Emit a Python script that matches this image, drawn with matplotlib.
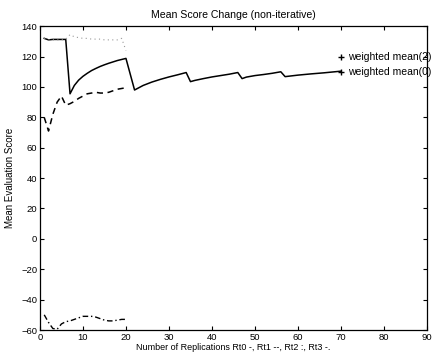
import numpy as np
import matplotlib
matplotlib.use('Agg')
import matplotlib.pyplot as plt

plt.rcParams['font.family'] = ['Liberation Sans', 'DejaVu Sans']

# Rt0 (solid)
rt0_x = [1, 2, 3, 4, 5, 6, 7, 8, 9, 10, 11, 12, 13, 14, 15, 16, 17, 18, 19, 20,
         22, 23, 24, 26, 28, 30, 32, 34, 35, 36, 38, 40, 42, 44, 46, 47, 48, 50,
         52, 54, 56, 57, 60, 63, 66, 70]
rt0_y = [132, 131, 131.3, 131.3, 131.3, 131.3, 95.5, 101, 104.5, 107, 109, 110.8,
         112.2, 113.5, 114.6, 115.6, 116.5, 117.4, 118.1, 118.8,
         98, 99.5, 101, 103.2, 105, 106.6, 108, 109.5, 103.5, 104.3, 105.5, 106.6,
         107.5, 108.4, 109.5, 105.5, 106.5, 107.5, 108.2, 109, 110, 106.8, 107.8,
         108.6, 109.3, 110.4]

# Rt1 (dashed)
rt_x = list(range(1, 21))
rt1_y = [80, 71, 82, 90, 94, 88, 89, 90.5, 92.5, 94, 95.5, 96, 96.5, 96, 96,
         96.5, 97.5, 98.5, 99, 99.5]
# Rt2 (dotted)
rt2_y = [132, 131, 131, 131, 131, 131.5, 134.5, 133, 132.5, 132, 132, 131.5,
         131.5, 131.5, 131, 131, 131, 131, 132, 124]
# Rt3 (dash-dot)
rt3_y = [-50, -55, -59, -59.5, -56, -54.5, -54, -53, -52, -51, -51, -51, -51.5,
         -52.5, -53.5, -54, -54, -53.5, -53, -53]

notes = ['weighted mean(2)', 'weighted mean(0)']
note_y = [120, 110]
note_x = 70

fig = plt.figure(figsize=(4.34, 3.57), dpi=100)
ax = fig.add_axes([0.092, 0.0756, 0.892, 0.851])

ax.plot(rt0_x, rt0_y, color='black', lw=1.1, ls='-')
ax.plot(rt_x, rt1_y, color='black', lw=1.1, ls=(0, (4, 3)))
ax.plot(rt_x, rt2_y, color='#999999', lw=0.8, ls=(0, (1, 3)))
ax.plot(rt_x, rt3_y, color='black', lw=1.0, ls=(0, (4, 2, 1, 2)))

for txt, yy in zip(notes, note_y):
    ax.plot([note_x], [yy], marker='+', color='black', ms=4, mew=1.0)
    ax.text(note_x + 1.7, yy, txt, fontsize=7.5, va='center', ha='left',
            clip_on=False)

ax.set_xlim(0, 90)
ax.set_ylim(-60, 140)
ax.set_xticks(np.arange(0, 91, 10))
ax.set_yticks(np.arange(-60, 141, 20))
ax.set_yticklabels([str(v).replace('-', '\u2212') for v in range(-60, 141, 20)])
ax.tick_params(direction='in', length=3, width=0.8, labelsize=6.8,
               top=True, right=True, pad=2)
for s in ax.spines.values():
    s.set_linewidth(0.9)

ax.set_title('Mean Score Change (non-iterative)', fontsize=7.6, pad=6)
ax.set_xlabel('Number of Replications Rt0 -, Rt1 --, Rt2 :, Rt3 -.',
              fontsize=6.5, labelpad=1)
ax.set_ylabel('Mean Evaluation Score', fontsize=7, labelpad=4)

fig.savefig('out.png', dpi=100)
